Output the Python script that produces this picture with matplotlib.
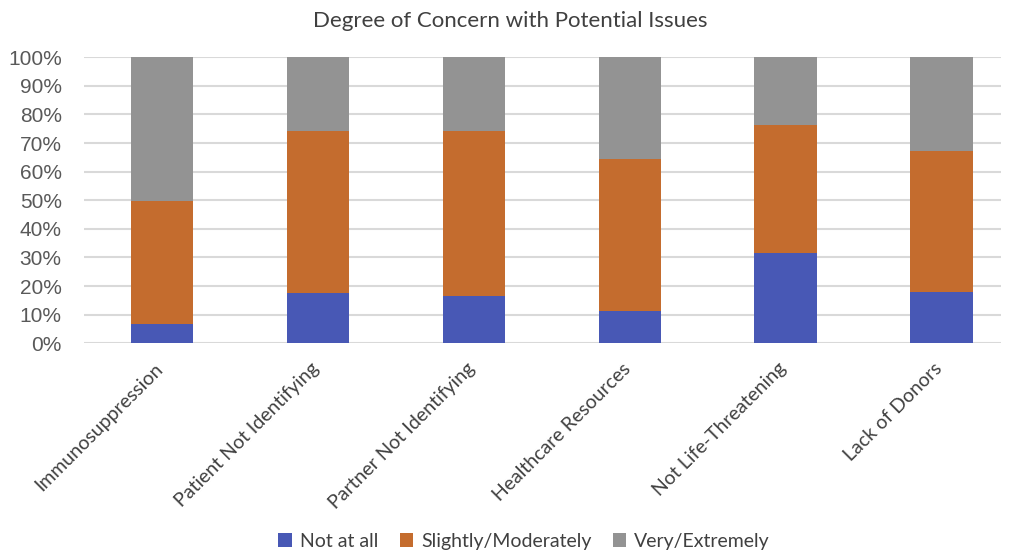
import numpy as np
import matplotlib.pyplot as plt
import matplotlib.transforms as mtransforms
from matplotlib.ticker import PercentFormatter

categories = ['Immunosuppression', 'Patient Not Identifying', 'Partner Not Identifying',
              'Healthcare Resources', 'Not Life-Threatening', 'Lack of Donors']
not_at_all = [6.6, 17.5, 16.6, 11.4, 31.7, 17.8]
slightly = [43.2, 56.7, 57.6, 52.9, 44.6, 49.4]
very = [50.2, 25.8, 25.8, 35.7, 23.7, 32.8]

series = ['Not at all', 'Slightly/Moderately', 'Very/Extremely']
colors = ['#4858B5', '#C46C2E', '#939393']

fig = plt.figure(figsize=(10.11, 5.51), dpi=100)
ax = fig.add_axes([0.083, 0.377, 0.907, 0.519])

x = np.arange(len(categories))
bottom = np.zeros(len(categories))
for vals, name, c in zip([not_at_all, slightly, very], series, colors):
    ax.bar(x, vals, 0.4, bottom=bottom, color=c, label=name, zorder=3)
    bottom += np.array(vals)

ax.set_ylim(0, 100)
ax.set_xlim(-0.5, 5.38)
ax.set_yticks(np.arange(0, 101, 10))
ax.yaxis.set_major_formatter(PercentFormatter(decimals=0))
ax.grid(axis='y', color='#D9D9D9', lw=1.5, zorder=0)
for s in ax.spines.values():
    s.set_visible(False)
ax.tick_params(axis='both', length=0)
ax.tick_params(axis='y', labelsize=15, labelcolor='#595959', pad=16)
for t in ax.get_yticklabels():
    t.set_family('Liberation Sans')

ax.set_xticks(x)
ax.set_xticklabels(categories, rotation=45, ha='right', rotation_mode='anchor',
                   fontsize=14, color='#404040', family='Lato')
ax.tick_params(axis='x', pad=12)
shift = mtransforms.ScaledTranslation(-8 / 100, 0, fig.dpi_scale_trans)
for t in ax.get_xticklabels():
    t.set_transform(t.get_transform() + shift)

fig.text(0.505, 0.962, 'Degree of Concern with Potential Issues', ha='center', va='center',
         fontsize=16, color='#404040', family='Lato')

ax.legend(loc='center', bbox_to_anchor=(0.48, -0.693), ncol=3, frameon=False,
          prop={'family': 'Lato', 'size': 14}, labelcolor='#404040',
          handlelength=0.7, handleheight=0.7, handletextpad=0.4, columnspacing=1.1)

fig.savefig('out.png')
